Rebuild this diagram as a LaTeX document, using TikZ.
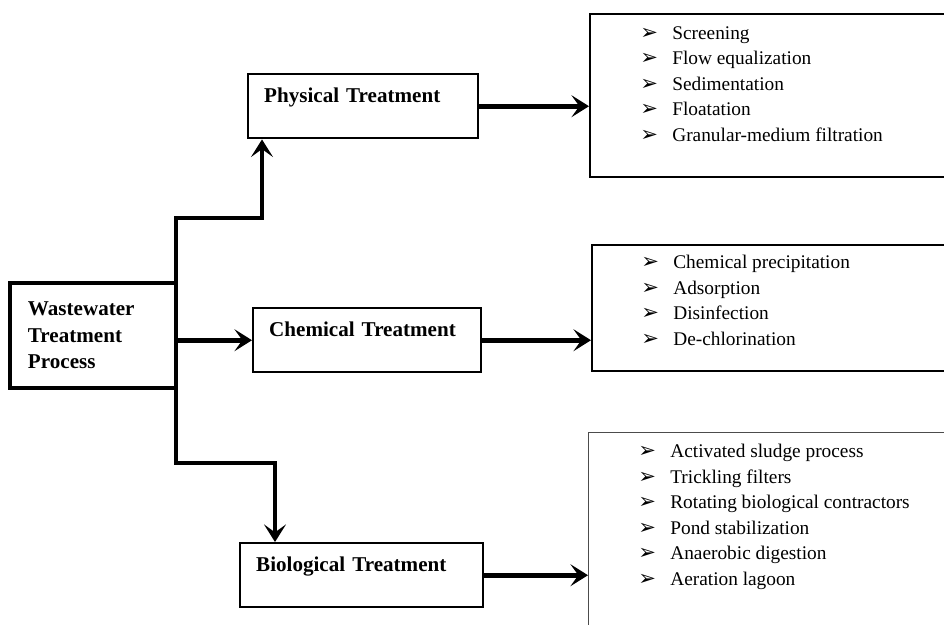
\documentclass[tikz,border=0pt]{standalone}
\usepackage{fontspec}
\setmainfont{Liberation Serif}
\newfontfamily\dingfont{DejaVu Sans}
\usetikzlibrary{arrows.meta,calc}

% one list entry: arrowhead bullet, then the text
\newcommand{\itm}[1]{\makebox[0.64cm][l]{\dingfont\fontsize{12}{12}\selectfont ➢}#1}

\tikzset{
	% boxes of the chart: the source, the three treatments and their lists
	main box/.style={rectangle,draw,line width=2.6pt,outer sep=0pt,anchor=north west,
		align=left,font=\bfseries\fontsize{12}{15}\selectfont,
		minimum height=2.1cm,text width=2.6cm,inner xsep=0.36cm},
	treat box/.style={rectangle,draw,line width=1.4pt,anchor=north west,align=left,
		font=\bfseries\fontsize{12}{15}\selectfont,minimum height=1.28cm,
		inner xsep=0.32cm,text height=9pt,text depth=13.5pt},
	list box/.style={rectangle,draw,line width=1.2pt,anchor=north west},
	items/.style={anchor=north west,align=left,inner sep=0,font=\fontsize{11}{14.5}\selectfont},
	flow/.style={line width=2.7pt,-{Stealth[length=10pt,width=12.5pt,inset=4.5pt]}}
}

\begin{document}
\begin{tikzpicture}[x=0.02cm, y=-0.02cm]

  \clip (0,0) rectangle (944,625);

  \node(wwtp) at (10,283) [main box]{Wastewater\\Treatment\\Process};

  \node(phys) at (247,73) [treat box, text width=3.96cm]{Physical Treatment};
  \node(chem) at (252,307) [treat box, text width=3.92cm]{Chemical Treatment};
  \node(bio) at (239,542) [treat box, text width=4.22cm]{Biological Treatment};

  %% list boxes run off the right edge
  \node(physlist) at (589,13) [list box, minimum width=7.3cm, minimum height=3.26cm]{};
  \node(chemlist) at (591,244) [list box, minimum width=7.3cm, minimum height=2.52cm]{};
  \node(biolist) at (588,432) [list box, draw=black!70, line width=0.6pt,
    minimum width=7.3cm, minimum height=4.4cm]{};

  \node(physitems) at ($(physlist.north west)+(51,13)$) [items]{%
    \itm{Screening}\\ \itm{Flow equalization}\\ \itm{Sedimentation}\\
    \itm{Floatation}\\ \itm{Granular-medium filtration}};
  \node(chemitems) at ($(chemlist.north west)+(50,11)$) [items]{%
    \itm{Chemical precipitation}\\ \itm{Adsorption}\\ \itm{Disinfection}\\
    \itm{De-chlorination}};
  \node(bioitems) at ($(biolist.north west)+(50,12)$) [items]{%
    \itm{Activated sludge process}\\ \itm{Trickling filters}\\
    \itm{Rotating biological contractors}\\ \itm{Pond stabilization}\\
    \itm{Anaerobic digestion}\\ \itm{Aeration lagoon}};

  %% branches from the source box
  \coordinate(physin) at ($(phys.south west)+(15,0)$);
  \coordinate(bioin) at ($(bio.north west)+(36,0)$);
  \draw[flow] (wwtp.north east) -- ++(0,-65) -| (physin);
  \draw[flow] (wwtp.south east) -- ++(0,75) -| (bioin);
  \path[flow] (wwtp.east |- chem.west) edge (chem.west);

  %% each treatment to its list
  \path[flow] (phys.east) edge (phys.east -| physlist.west);
  \path[flow] (chem.east) edge (chem.east -| chemlist.west);
  \path[flow] (bio.east) edge (bio.east -| biolist.west);

\end{tikzpicture}
\end{document}
